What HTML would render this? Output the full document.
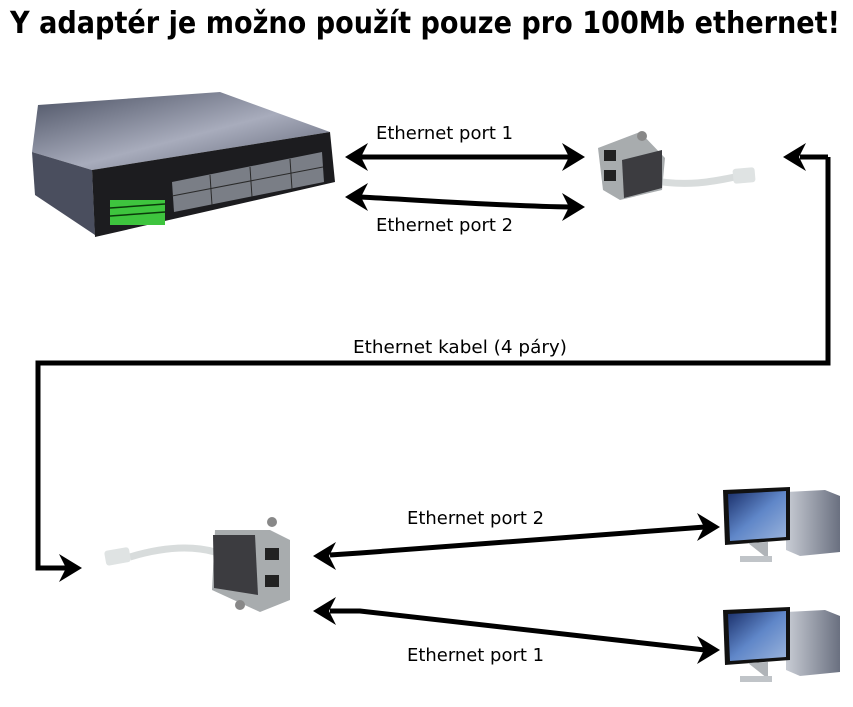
<!DOCTYPE html>
<html><head><meta charset="utf-8"><style>
html,body{margin:0;padding:0;background:#fff;width:853px;height:707px;overflow:hidden}
svg{display:block}
text{font-family:"DejaVu Sans","Liberation Sans",sans-serif}
</style></head><body>
<svg width="853" height="707" viewBox="0 0 853 707" xmlns="http://www.w3.org/2000/svg">
<defs>
<linearGradient id="top" x1="0" y1="0" x2="1" y2="1">
<stop offset="0" stop-color="#4a5062"/><stop offset="0.55" stop-color="#a8acbc"/><stop offset="1" stop-color="#5a5f70"/></linearGradient>
<linearGradient id="scr" x1="0" y1="0" x2="1" y2="1">
<stop offset="0" stop-color="#1a2f6a"/><stop offset="0.5" stop-color="#5f86c8"/><stop offset="1" stop-color="#9bb4dc"/></linearGradient>
<linearGradient id="tow" x1="0" y1="0" x2="1" y2="0">
<stop offset="0" stop-color="#c8ccd4"/><stop offset="1" stop-color="#6a7080"/></linearGradient>
</defs>
<text x="425" y="33" text-anchor="middle" font-size="30" font-weight="bold" textLength="830" lengthAdjust="spacingAndGlyphs">Y adaptér je možno použít pouze pro 100Mb ethernet!</text>

<!-- switch -->
<polygon points="38,105 220,92 330,132 92,170 32,152" fill="url(#top)"/>
<polygon points="32,152 92,170 95,235 35,195" fill="#4a4e5e"/>
<polygon points="92,170 330,132 335,182 95,237" fill="#1c1c1f"/>
<polygon points="172,182 322,152 324,182 174,212" fill="#7a7e86"/>
<g stroke="#2a2a2a" stroke-width="1">
<line x1="172" y1="196" x2="323" y2="167"/>
<line x1="210" y1="175" x2="212" y2="205"/><line x1="250" y1="167" x2="252" y2="197"/><line x1="290" y1="159" x2="292" y2="189"/>
</g>
<rect x="110" y="200" width="55" height="25" fill="#3ec43e"/>
<g stroke="#0a3a0a" stroke-width="1.5"><line x1="110" y1="208" x2="165" y2="204"/><line x1="110" y1="216" x2="165" y2="212"/></g>

<!-- top adapter -->
<path d="M650,180 C690,188 720,180 740,176" stroke="#d8dcdc" stroke-width="7" fill="none"/>
<rect x="733" y="168" width="22" height="15" rx="3" fill="#dfe3e3" transform="rotate(-5 744 175)"/>
<polygon points="598,148 640,132 665,158 662,190 620,200 603,190" fill="#a8acae"/>
<polygon points="622,160 662,150 662,188 624,198" fill="#3c3c40"/>
<rect x="604" y="150" width="12" height="11" fill="#222"/><rect x="604" y="170" width="12" height="11" fill="#222"/>
<circle cx="642" cy="136" r="5" fill="#888"/>

<!-- bottom adapter -->
<path d="M130,557 C160,548 190,545 215,552" stroke="#d8dcdc" stroke-width="7" fill="none"/>
<rect x="105" y="549" width="25" height="15" rx="3" fill="#dfe3e3" transform="rotate(-10 117 556)"/>
<polygon points="215,530 270,530 290,540 290,600 260,612 212,590" fill="#a8acae"/>
<polygon points="213,535 255,535 258,595 214,588" fill="#3c3c40"/>
<rect x="265" y="548" width="14" height="12" fill="#222"/><rect x="265" y="575" width="14" height="12" fill="#222"/>
<circle cx="272" cy="522" r="5" fill="#888"/><circle cx="240" cy="605" r="5" fill="#888"/>

<!-- computers -->
<g id="pc">
<polygon points="786,492 825,490 840,496 840,552 800,556 786,550" fill="url(#tow)"/>
<polygon points="723,490 790,487 790,540 725,545" fill="#111"/>
<polygon points="728,494 786,491 786,537 730,541" fill="url(#scr)"/>
<polygon points="748,543 768,542 768,556 742,562 772,562" fill="#b0b4b8"/>
<rect x="740" y="556" width="32" height="6" fill="#c0c4c8"/>
</g>
<use href="#pc" transform="translate(0,120)"/>

<!-- connectors -->
<g stroke="#000" stroke-width="5" fill="none">
<line x1="360" y1="157" x2="570" y2="157"/>
<path d="M360,197 C420,200 500,206 570,207"/>
<path d="M828,157 V363 H38 V568 H66"/>
<line x1="800" y1="157" x2="828" y2="157"/>
<path d="M330,555 L360,553 L705,527"/>
<path d="M330,611 L360,611 L705,650"/>
</g>
<g fill="#000">
<polygon points="345,157 368,143 361,157 368,171"/>
<polygon points="585,157 562,143 569,157 562,171"/>
<polygon points="345,197 368,183 361,197 368,211"/>
<polygon points="585,207 562,193 569,207 562,221"/>
<polygon points="783,157 806,143 799,157 806,171"/>
<polygon points="82,568 59,554 66,568 59,582"/>
<polygon points="313,556 336,542 329,556 336,570"/>
<polygon points="313,611 336,597 329,611 336,625"/>
<polygon points="720,527 697,513 704,527 697,541"/>
<polygon points="720,650 697,636 704,650 697,664"/>
</g>
<g font-size="17.5">
<text x="376" y="139" textLength="137" lengthAdjust="spacingAndGlyphs">Ethernet port 1</text>
<text x="376" y="231" textLength="137" lengthAdjust="spacingAndGlyphs">Ethernet port 2</text>
<text x="353" y="353" textLength="214" lengthAdjust="spacingAndGlyphs">Ethernet kabel (4 páry)</text>
<text x="407" y="524" textLength="137" lengthAdjust="spacingAndGlyphs">Ethernet port 2</text>
<text x="407" y="661" textLength="137" lengthAdjust="spacingAndGlyphs">Ethernet port 1</text>
</g>
</svg>
</body></html>
